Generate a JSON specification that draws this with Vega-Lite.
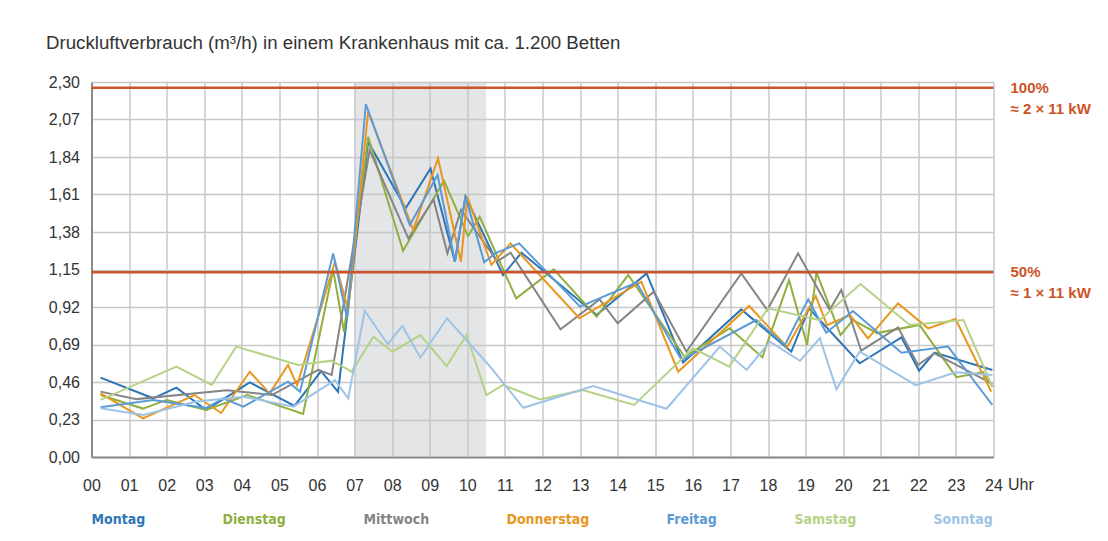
{
  "$schema": "https://vega.github.io/schema/vega-lite/v6.json",
  "width": 902,
  "height": 375,
  "autosize": {"type": "none"},
  "padding": {"left": 91.5, "top": 82, "right": 114.5, "bottom": 84},
  "background": "white",
  "title": {"text": "Druckluftverbrauch (m³/h) in einem Krankenhaus mit ca. 1.200 Betten", "anchor": "start", "frame": "group", "dx": -45.5, "offset": 21, "font": "Liberation Sans", "fontSize": 18.7, "fontWeight": "normal", "color": "#333333"},
  "config": {
    "view": {"stroke": null},
    "font": "Liberation Sans",
    "axis": {"grid": true, "gridColor": "#c8c8c8", "gridWidth": 1.5, "domainColor": "#8a8a8a", "domainWidth": 2, "ticks": false,
      "labelFont": "Liberation Sans", "labelFontSize": 16, "labelColor": "#333333", "labelOverlap": false, "labelFlush": false}
  },
  "datasets": {
    "band": [{"start": 7, "end": 10.5}],
    "levels": [{"level": 2.265, "pct": "100%", "kw": "≈ 2 × 11 kW"}, {"level": 1.1325, "pct": "50%", "kw": "≈ 1 × 11 kW"}],
    "series": [
      {"d":"Montag","h":0.24,"v":0.487},{"d":"Montag","h":1.64,"v":0.36},{"d":"Montag","h":2.26,"v":0.425},{"d":"Montag","h":3.05,"v":0.288},{"d":"Montag","h":4.21,"v":0.458},{"d":"Montag","h":5.4,"v":0.313},{"d":"Montag","h":6.11,"v":0.527},{"d":"Montag","h":6.56,"v":0.4},{"d":"Montag","h":7.36,"v":1.934},{"d":"Montag","h":8.36,"v":1.525},{"d":"Montag","h":9.02,"v":1.77},{"d":"Montag","h":9.67,"v":1.198},{"d":"Montag","h":9.95,"v":1.597},{"d":"Montag","h":10.95,"v":1.116},{"d":"Montag","h":11.44,"v":1.253},{"d":"Montag","h":13.44,"v":0.871},{"d":"Montag","h":14.77,"v":1.126},{"d":"Montag","h":15.74,"v":0.58},{"d":"Montag","h":17.29,"v":0.905},{"d":"Montag","h":18.62,"v":0.646},{"d":"Montag","h":19.09,"v":0.912},{"d":"Montag","h":20.44,"v":0.575},{"d":"Montag","h":21.55,"v":0.734},{"d":"Montag","h":22.02,"v":0.529},{"d":"Montag","h":22.43,"v":0.64},{"d":"Montag","h":23.97,"v":0.534},
      {"d":"Dienstag","h":0.24,"v":0.38},{"d":"Dienstag","h":1.37,"v":0.297},{"d":"Dienstag","h":2.0,"v":0.35},{"d":"Dienstag","h":3.05,"v":0.288},{"d":"Dienstag","h":4.15,"v":0.38},{"d":"Dienstag","h":5.63,"v":0.264},{"d":"Dienstag","h":6.43,"v":1.147},{"d":"Dienstag","h":6.72,"v":0.768},{"d":"Dienstag","h":7.36,"v":1.964},{"d":"Dienstag","h":8.29,"v":1.265},{"d":"Dienstag","h":9.38,"v":1.695},{"d":"Dienstag","h":10.02,"v":1.355},{"d":"Dienstag","h":10.33,"v":1.474},{"d":"Dienstag","h":10.78,"v":1.239},{"d":"Dienstag","h":11.3,"v":0.973},{"d":"Dienstag","h":12.3,"v":1.151},{"d":"Dienstag","h":13.44,"v":0.86},{"d":"Dienstag","h":14.28,"v":1.116},{"d":"Dienstag","h":15.78,"v":0.615},{"d":"Dienstag","h":16.98,"v":0.789},{"d":"Dienstag","h":17.85,"v":0.611},{"d":"Dienstag","h":18.56,"v":1.085},{"d":"Dienstag","h":19.04,"v":0.687},{"d":"Dienstag","h":19.29,"v":1.133},{"d":"Dienstag","h":19.93,"v":0.748},{"d":"Dienstag","h":20.26,"v":0.84},{"d":"Dienstag","h":20.9,"v":0.76},{"d":"Dienstag","h":22.03,"v":0.81},{"d":"Dienstag","h":23.01,"v":0.49},{"d":"Dienstag","h":23.72,"v":0.52},{"d":"Dienstag","h":23.98,"v":0.43},
      {"d":"Mittwoch","h":0.24,"v":0.401},{"d":"Mittwoch","h":1.2,"v":0.355},{"d":"Mittwoch","h":3.6,"v":0.41},{"d":"Mittwoch","h":4.8,"v":0.38},{"d":"Mittwoch","h":6.03,"v":0.534},{"d":"Mittwoch","h":6.39,"v":0.503},{"d":"Mittwoch","h":7.4,"v":1.883},{"d":"Mittwoch","h":8.43,"v":1.341},{"d":"Mittwoch","h":9.1,"v":1.58},{"d":"Mittwoch","h":9.47,"v":1.249},{"d":"Mittwoch","h":9.83,"v":1.515},{"d":"Mittwoch","h":10.8,"v":1.2},{"d":"Mittwoch","h":11.15,"v":1.253},{"d":"Mittwoch","h":12.48,"v":0.783},{"d":"Mittwoch","h":13.52,"v":0.967},{"d":"Mittwoch","h":14.0,"v":0.82},{"d":"Mittwoch","h":14.96,"v":1.014},{"d":"Mittwoch","h":15.83,"v":0.646},{"d":"Mittwoch","h":17.29,"v":1.126},{"d":"Mittwoch","h":17.98,"v":0.901},{"d":"Mittwoch","h":18.8,"v":1.249},{"d":"Mittwoch","h":19.64,"v":0.901},{"d":"Mittwoch","h":19.95,"v":1.024},{"d":"Mittwoch","h":20.48,"v":0.652},{"d":"Mittwoch","h":21.46,"v":0.795},{"d":"Mittwoch","h":21.99,"v":0.564},{"d":"Mittwoch","h":22.43,"v":0.636},{"d":"Mittwoch","h":23.97,"v":0.448},
      {"d":"Donnerstag","h":0.24,"v":0.39},{"d":"Donnerstag","h":1.37,"v":0.237},{"d":"Donnerstag","h":2.74,"v":0.38},{"d":"Donnerstag","h":3.45,"v":0.27},{"d":"Donnerstag","h":4.21,"v":0.523},{"d":"Donnerstag","h":4.74,"v":0.39},{"d":"Donnerstag","h":5.23,"v":0.564},{"d":"Donnerstag","h":5.47,"v":0.44},{"d":"Donnerstag","h":6.48,"v":1.198},{"d":"Donnerstag","h":6.83,"v":0.9},{"d":"Donnerstag","h":7.36,"v":2.118},{"d":"Donnerstag","h":8.56,"v":1.392},{"d":"Donnerstag","h":9.22,"v":1.832},{"d":"Donnerstag","h":9.83,"v":1.198},{"d":"Donnerstag","h":10.0,"v":1.597},{"d":"Donnerstag","h":10.64,"v":1.178},{"d":"Donnerstag","h":11.15,"v":1.31},{"d":"Donnerstag","h":12.98,"v":0.851},{"d":"Donnerstag","h":14.63,"v":1.075},{"d":"Donnerstag","h":15.61,"v":0.523},{"d":"Donnerstag","h":17.5,"v":0.926},{"d":"Donnerstag","h":18.51,"v":0.674},{"d":"Donnerstag","h":19.27,"v":0.987},{"d":"Donnerstag","h":19.57,"v":0.809},{"d":"Donnerstag","h":20.18,"v":0.871},{"d":"Donnerstag","h":20.66,"v":0.727},{"d":"Donnerstag","h":21.46,"v":0.942},{"d":"Donnerstag","h":22.26,"v":0.789},{"d":"Donnerstag","h":22.99,"v":0.846},{"d":"Donnerstag","h":23.94,"v":0.401},
      {"d":"Freitag","h":0.24,"v":0.305},{"d":"Freitag","h":1.64,"v":0.35},{"d":"Freitag","h":3.05,"v":0.3},{"d":"Freitag","h":3.5,"v":0.36},{"d":"Freitag","h":4.04,"v":0.309},{"d":"Freitag","h":5.23,"v":0.462},{"d":"Freitag","h":5.55,"v":0.4},{"d":"Freitag","h":6.43,"v":1.249},{"d":"Freitag","h":6.8,"v":0.85},{"d":"Freitag","h":7.3,"v":2.165},{"d":"Freitag","h":8.47,"v":1.423},{"d":"Freitag","h":9.21,"v":1.73},{"d":"Freitag","h":9.67,"v":1.198},{"d":"Freitag","h":9.95,"v":1.597},{"d":"Freitag","h":10.45,"v":1.194},{"d":"Freitag","h":10.75,"v":1.25},{"d":"Freitag","h":11.38,"v":1.31},{"d":"Freitag","h":13.0,"v":0.922},{"d":"Freitag","h":14.5,"v":1.07},{"d":"Freitag","h":15.7,"v":0.595},{"d":"Freitag","h":17.69,"v":0.84},{"d":"Freitag","h":18.45,"v":0.687},{"d":"Freitag","h":19.07,"v":0.967},{"d":"Freitag","h":19.55,"v":0.762},{"d":"Freitag","h":20.26,"v":0.895},{"d":"Freitag","h":21.55,"v":0.64},{"d":"Freitag","h":22.79,"v":0.677},{"d":"Freitag","h":23.97,"v":0.319},
      {"d":"Samstag","h":0.24,"v":0.35},{"d":"Samstag","h":2.26,"v":0.554},{"d":"Samstag","h":3.2,"v":0.442},{"d":"Samstag","h":3.85,"v":0.677},{"d":"Samstag","h":5.5,"v":0.564},{"d":"Samstag","h":6.39,"v":0.591},{"d":"Samstag","h":6.92,"v":0.523},{"d":"Samstag","h":7.5,"v":0.738},{"d":"Samstag","h":8.01,"v":0.646},{"d":"Samstag","h":8.75,"v":0.748},{"d":"Samstag","h":9.45,"v":0.558},{"d":"Samstag","h":9.98,"v":0.748},{"d":"Samstag","h":10.51,"v":0.38},{"d":"Samstag","h":10.95,"v":0.442},{"d":"Samstag","h":11.93,"v":0.353},{"d":"Samstag","h":13.07,"v":0.41},{"d":"Samstag","h":14.44,"v":0.319},{"d":"Samstag","h":16.0,"v":0.667},{"d":"Samstag","h":16.97,"v":0.554},{"d":"Samstag","h":18.0,"v":0.912},{"d":"Samstag","h":19.38,"v":0.84},{"d":"Samstag","h":20.46,"v":1.061},{"d":"Samstag","h":21.77,"v":0.81},{"d":"Samstag","h":23.2,"v":0.84},{"d":"Samstag","h":23.97,"v":0.431},
      {"d":"Sonntag","h":0.24,"v":0.299},{"d":"Sonntag","h":1.38,"v":0.258},{"d":"Sonntag","h":2.8,"v":0.34},{"d":"Sonntag","h":4.03,"v":0.37},{"d":"Sonntag","h":5.37,"v":0.309},{"d":"Sonntag","h":6.48,"v":0.472},{"d":"Sonntag","h":6.83,"v":0.36},{"d":"Sonntag","h":7.27,"v":0.897},{"d":"Sonntag","h":7.88,"v":0.693},{"d":"Sonntag","h":8.27,"v":0.803},{"d":"Sonntag","h":8.75,"v":0.609},{"d":"Sonntag","h":9.46,"v":0.851},{"d":"Sonntag","h":10.6,"v":0.556},{"d":"Sonntag","h":11.49,"v":0.302},{"d":"Sonntag","h":13.35,"v":0.435},{"d":"Sonntag","h":15.3,"v":0.296},{"d":"Sonntag","h":16.72,"v":0.677},{"d":"Sonntag","h":17.43,"v":0.534},{"d":"Sonntag","h":18.05,"v":0.707},{"d":"Sonntag","h":18.85,"v":0.59},{"d":"Sonntag","h":19.38,"v":0.728},{"d":"Sonntag","h":19.82,"v":0.415},{"d":"Sonntag","h":20.44,"v":0.646},{"d":"Sonntag","h":21.93,"v":0.441},{"d":"Sonntag","h":23.0,"v":0.52},{"d":"Sonntag","h":23.97,"v":0.503}
    ]
  },
  "layer": [
    {
      "data": {"name": "band"},
      "mark": {"type": "rect", "color": "#c3c6ca", "opacity": 0.45},
      "encoding": {
        "x": {"field": "start", "type": "quantitative", "title": "Uhr", "scale": {"domain": [0, 24], "nice": false, "zero": false},
          "axis": {"values": [0,1,2,3,4,5,6,7,8,9,10,11,12,13,14,15,16,17,18,19,20,21,22,23,24],
            "labelExpr": "datum.value < 10 ? '0' + datum.value : '' + datum.value", "labelPadding": 20,
            "title": "Uhr", "titleX": 916, "titleY": 27, "titleAlign": "left", "titleBaseline": "middle", "titleFont": "Liberation Sans", "titleFontSize": 16, "titleFontWeight": "normal", "titleColor": "#333333"}},
        "x2": {"field": "end"}
      }
    },
    {
      "data": {"name": "series"},
      "mark": {"type": "line", "strokeWidth": 2},
      "encoding": {
        "x": {"field": "h", "type": "quantitative", "title": "Uhr", "scale": {"domain": [0, 24], "nice": false, "zero": false},
          "axis": {"values": [0,1,2,3,4,5,6,7,8,9,10,11,12,13,14,15,16,17,18,19,20,21,22,23,24],
            "labelExpr": "datum.value < 10 ? '0' + datum.value : '' + datum.value", "labelPadding": 20,
            "title": "Uhr", "titleX": 916, "titleY": 27, "titleAlign": "left", "titleBaseline": "middle", "titleFont": "Liberation Sans", "titleFontSize": 16, "titleFontWeight": "normal", "titleColor": "#333333"}},
        "y": {"field": "v", "type": "quantitative", "title": null, "scale": {"domain": [0, 2.3], "nice": false, "zero": true},
          "axis": {"values": [0, 0.23, 0.46, 0.69, 0.92, 1.15, 1.38, 1.61, 1.84, 2.07, 2.3],
            "labelExpr": "replace(format(datum.value, '.2f'), '.', ',')", "title": null, "labelPadding": 12}},
        "color": {"field": "d", "type": "nominal",
          "scale": {"domain": ["Montag", "Dienstag", "Mittwoch", "Donnerstag", "Freitag", "Samstag", "Sonntag"],
            "range": ["#2e75b6", "#8fb03f", "#858585", "#e8961e", "#5b9bd5", "#b5d287", "#9dc3e6"]},
          "legend": {"orient": "none", "legendX": -14, "legendY": 431, "direction": "horizontal", "columns": 7, "title": null,
            "symbolSize": 0, "symbolStrokeWidth": 0, "symbolOpacity": 0, "labelOffset": 0, "columnPadding": 63,
            "labelFont": "DejaVu Sans Condensed", "labelFontSize": 14, "labelFontWeight": "bold",
            "labelColor": {"expr": "scale('color', datum.value)"}}}
      }
    },
    {
      "data": {"name": "levels"},
      "mark": {"type": "rule", "color": "#cc5329", "strokeWidth": 2.5},
      "encoding": {"y": {"field": "level", "type": "quantitative", "title": null,
          "axis": {"values": [0, 0.23, 0.46, 0.69, 0.92, 1.15, 1.38, 1.61, 1.84, 2.07, 2.3],
            "labelExpr": "replace(format(datum.value, '.2f'), '.', ',')", "title": null, "labelPadding": 12}}}
    },
    {
      "data": {"name": "levels"},
      "mark": {"type": "text", "align": "left", "baseline": "middle", "dx": 17, "dy": 0, "font": "Liberation Sans", "fontSize": 15, "fontWeight": "bold", "color": "#cc5329"},
      "encoding": {
        "x": {"datum": 24, "type": "quantitative", "title": "Uhr",
          "axis": {"values": [0,1,2,3,4,5,6,7,8,9,10,11,12,13,14,15,16,17,18,19,20,21,22,23,24],
            "labelExpr": "datum.value < 10 ? '0' + datum.value : '' + datum.value", "labelPadding": 20,
            "title": "Uhr", "titleX": 916, "titleY": 27, "titleAlign": "left", "titleBaseline": "middle", "titleFont": "Liberation Sans", "titleFontSize": 16, "titleFontWeight": "normal", "titleColor": "#333333"}},
        "y": {"field": "level", "type": "quantitative", "title": null,
          "axis": {"values": [0, 0.23, 0.46, 0.69, 0.92, 1.15, 1.38, 1.61, 1.84, 2.07, 2.3],
            "labelExpr": "replace(format(datum.value, '.2f'), '.', ',')", "title": null, "labelPadding": 12}},
        "text": {"field": "pct"}}
    },
    {
      "data": {"name": "levels"},
      "mark": {"type": "text", "align": "left", "baseline": "middle", "dx": 17, "dy": 21, "font": "Liberation Sans", "fontSize": 15, "fontWeight": "bold", "color": "#cc5329"},
      "encoding": {
        "x": {"datum": 24, "type": "quantitative", "title": "Uhr",
          "axis": {"values": [0,1,2,3,4,5,6,7,8,9,10,11,12,13,14,15,16,17,18,19,20,21,22,23,24],
            "labelExpr": "datum.value < 10 ? '0' + datum.value : '' + datum.value", "labelPadding": 20,
            "title": "Uhr", "titleX": 916, "titleY": 27, "titleAlign": "left", "titleBaseline": "middle", "titleFont": "Liberation Sans", "titleFontSize": 16, "titleFontWeight": "normal", "titleColor": "#333333"}},
        "y": {"field": "level", "type": "quantitative", "title": null,
          "axis": {"values": [0, 0.23, 0.46, 0.69, 0.92, 1.15, 1.38, 1.61, 1.84, 2.07, 2.3],
            "labelExpr": "replace(format(datum.value, '.2f'), '.', ',')", "title": null, "labelPadding": 12}},
        "text": {"field": "kw"}}
    }
  ]
}
